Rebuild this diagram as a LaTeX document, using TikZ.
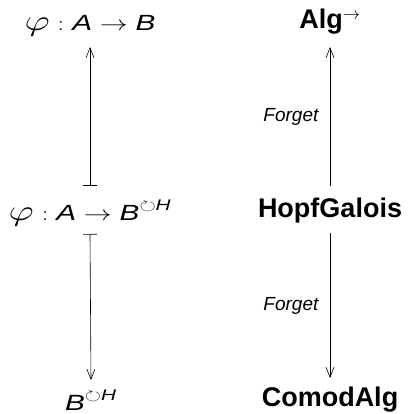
\documentclass[tikz,border=0pt]{standalone}
\usepackage{amsmath,amssymb}
\usepackage{graphicx}
\usepackage{fontspec}
\setmainfont{Liberation Sans}
\usetikzlibrary{arrows.meta}
% sans italic letters inside formulas
\newcommand{\sfit}[1]{\text{\itshape #1}}
% a larger phi
\newcommand{\bigphi}{\mathord{\scalebox{1.4}{$\varphi$}}}
% formulas on the left are set a little wide
\newcommand{\wideeq}[1]{\scalebox{1.35}[1]{#1}}
\begin{document}
\begin{tikzpicture}[x=1pt,y=1pt,
  obj/.style={anchor=base,inner sep=0pt,font=\fontsize{22}{26}\selectfont},
  cat/.style={anchor=base,inner sep=0pt,font=\fontsize{27}{32}\selectfont\bfseries},
  lbl/.style={font=\fontsize{19}{22}\selectfont\itshape},
  arr/.style={line width=0.6pt,-{Straight Barb[length=10pt,width=8pt]}},
  maparr/.style={line width=0.6pt,{Bar[width=14pt]}-{Straight Barb[length=10pt,width=8pt]}}]
\useasboundingbox (0,0) rectangle (409,-414);
% left column: a morphism and its pieces
\node[obj] (top) at (90,-31) {\wideeq{$\bigphi : \sfit{A} \to \sfit{B}$}};
\node[obj] (mid) at (90,-220) {\wideeq{$\bigphi : \sfit{A} \to \sfit{B}^{\circlearrowright \sfit{H}}$}};
\node[obj] (bot) at (91,-410) {\wideeq{$\sfit{B}^{\circlearrowright \sfit{H}}$}};
% right column: the categories
\node[cat] (alg) at (330,-29) {Alg$^{\to}$};
\node[cat] (hg) at (330,-217) {HopfGalois};
\node[cat] (ca) at (330,-406) {ComodAlg};
% element-wise assignments
\draw[maparr] ([yshift=34pt]mid.base) -- ([yshift=-16pt]top.base);
\draw[maparr] ([yshift=-14pt]mid.base) -- ([yshift=30pt]bot.base);
% forgetful functors
\draw[arr] ([yshift=31pt]hg.base) -- ([yshift=-18pt]alg.base)
  node[midway,left=8pt,lbl] (f1) {Forget};
\draw[arr] ([yshift=-16pt]hg.base) -- ([yshift=28pt]ca.base)
  node[midway,left=8pt,lbl] (f2) {Forget};
\end{tikzpicture}
\end{document}
